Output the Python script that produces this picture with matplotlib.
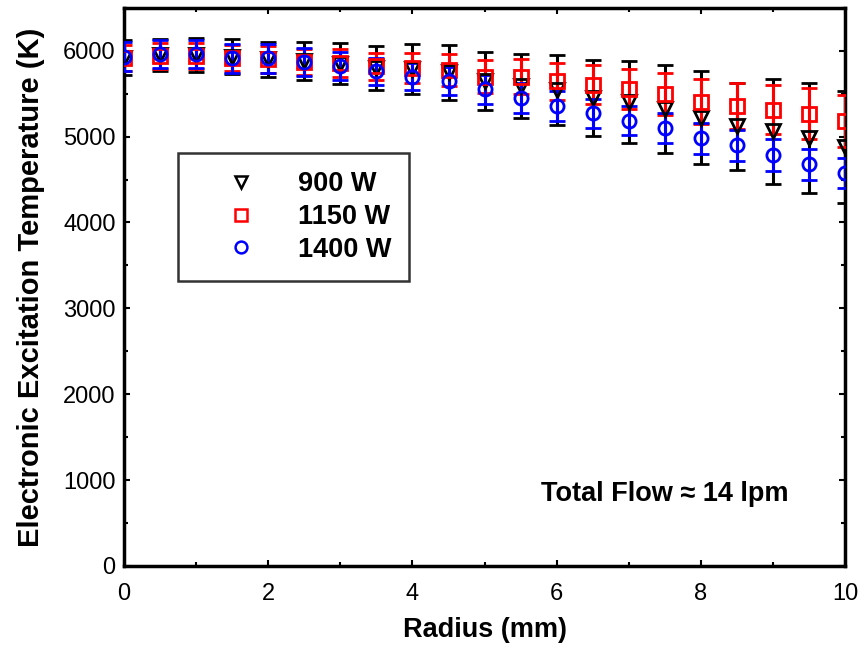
import matplotlib.pyplot as plt
from matplotlib.lines import Line2D
from matplotlib.ticker import MultipleLocator

# Radius positions (mm)
radius = [0, 0.5, 1, 1.5, 2, 2.5, 3, 3.5, 4, 4.5, 5,
          5.5, 6, 6.5, 7, 7.5, 8, 8.5, 9, 9.5, 10]

# 900 W
t900 = [5920, 5950, 5950, 5930, 5900, 5880, 5850, 5800, 5790, 5750, 5650,
        5590, 5540, 5450, 5400, 5320, 5220, 5120, 5060, 4980, 4880]
e900 = [200, 190, 195, 205, 205, 220, 235, 260, 290, 320, 340,
        375, 410, 440, 475, 510, 540, 510, 610, 640, 650]

# 1150 W
t1150 = [5920, 5940, 5940, 5920, 5900, 5870, 5860, 5820, 5800, 5780, 5700,
         5700, 5645, 5605, 5550, 5500, 5405, 5355, 5315, 5265, 5180]
e1150 = [150, 150, 150, 150, 155, 155, 160, 155, 175, 185, 190,
         200, 215, 225, 233, 243, 262, 272, 285, 298, 300]

# 1400 W
t1400 = [5930, 5960, 5960, 5910, 5910, 5870, 5820, 5760, 5700, 5650, 5550,
         5450, 5360, 5270, 5185, 5095, 4980, 4900, 4790, 4680, 4580]
e1400 = [170, 165, 165, 165, 165, 165, 165, 160, 160, 160, 165,
         175, 175, 170, 170, 175, 177, 181, 185, 181, 173]

labels = ['900 W', '1150 W', '1400 W']
colors = ['black', 'red', 'blue']
markers = ['v', 's', 'o']


def main():
    plt.rcParams['font.family'] = ['Liberation Sans', 'DejaVu Sans']

    fig = plt.figure(figsize=(8.65, 6.52), dpi=100)
    ax = fig.add_axes([0.1434, 0.132, 0.8336, 0.856])

    series = [(t900, e900), (t1150, e1150), (t1400, e1400)]
    for (t, e), c, m in zip(series, colors, markers):
        ax.errorbar(radius, t, yerr=e, fmt=m, color=c, mfc='none', mec=c,
                    ms=9.5, mew=2, ecolor=c, elinewidth=2.2, capsize=5.5,
                    capthick=2.2, zorder=3)

    # Axis limits and ticks
    ax.set_xlim(0, 10)
    ax.set_ylim(0, 6500)
    ax.xaxis.set_major_locator(MultipleLocator(2))
    ax.xaxis.set_minor_locator(MultipleLocator(1))
    ax.yaxis.set_major_locator(MultipleLocator(1000))
    ax.yaxis.set_minor_locator(MultipleLocator(500))
    ax.tick_params(which='both', direction='in', top=True, right=True,
                   width=1.5, labelsize=17)
    ax.tick_params(which='major', length=4)
    ax.tick_params(which='minor', length=3)
    ax.tick_params(axis='x', pad=12)
    ax.tick_params(axis='y', pad=6)
    for s in ax.spines.values():
        s.set_linewidth(2.5)

    ax.set_xlabel('Radius (mm)', fontsize=19.5, fontweight='bold', labelpad=9)
    ax.set_ylabel('Electronic Excitation Temperature (K)', fontsize=21,
                  fontweight='bold', labelpad=13)

    # Legend with markers only
    handles = [Line2D([], [], ls='none', marker=m, color=c, mfc='none',
                      ms=8.5, mew=1.8) for c, m in zip(colors, markers)]
    leg = ax.legend(handles, labels, loc='upper left',
                    bbox_to_anchor=(0.075, 0.74), frameon=True,
                    fancybox=False, edgecolor='black', handletextpad=0.43,
                    handlelength=3.3, borderpad=0.68, labelspacing=0.25,
                    borderaxespad=0, prop={'weight': 'bold', 'size': 19.5})
    leg.get_frame().set_linewidth(1.8)

    ax.text(7.5, 836, 'Total Flow \u2248 14 lpm', fontsize=19.5,
            fontweight='bold', ha='center', va='center')

    fig.savefig('out.png', dpi=100)
    plt.close()


if __name__ == "__main__":
    main()
